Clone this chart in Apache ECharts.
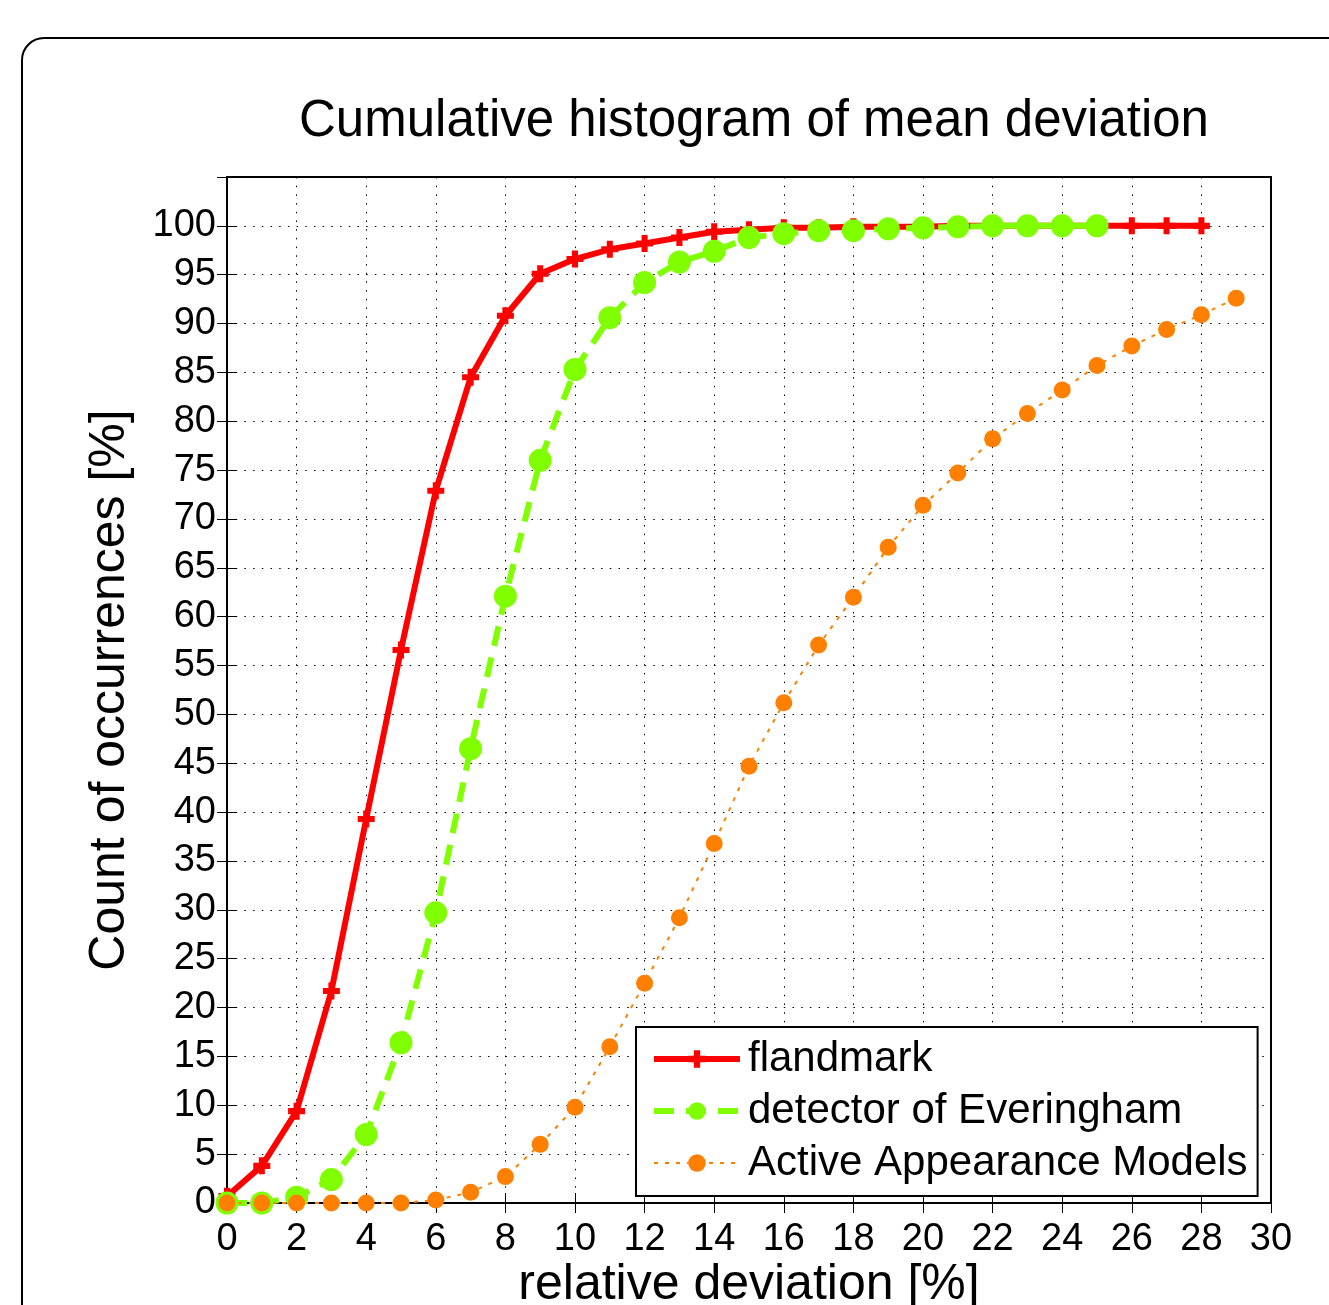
<!DOCTYPE html>
<html>
<head>
<meta charset="utf-8">
<script src="https://cdn.jsdelivr.net/npm/echarts@6/dist/echarts.min.js"></script>
<style>
html,body{margin:0;padding:0;background:#fff;}
#chart{width:1329px;height:1305px;}
</style>
</head>
<body>
<div id="chart"></div>
<script>
// relative deviation [%] (x values)
const xValues = [0,1,2,3,4,5,6,7,8,9,10,11,12,13,14,15,16,17,18,19,20,21,22,23,24,25,26,27,28,29];
const xTicks = [0,2,4,6,8,10,12,14,16,18,20,22,24,26,28,30];
const yTicks = [0,5,10,15,20,25,30,35,40,45,50,55,60,65,70,75,80,85,90,95,100];

const flandmark = [0.7,3.8,9.4,21.7,39.3,56.6,72.9,84.5,90.8,95.1,96.6,97.6,98.2,98.8,99.4,99.6,99.8,99.8,99.9,99.9,99.9,100,100,100,100,100,100,100,100];
const everingham = [0,0,0.6,2.4,7.0,16.4,29.7,46.5,62.1,76.0,85.3,90.6,94.2,96.3,97.4,98.8,99.2,99.5,99.5,99.7,99.8,99.9,100,100,100,100];
const aam = [0,0,0,0,0,0,0.3,1.1,2.7,6.0,9.8,16.0,22.5,29.2,36.8,44.7,51.2,57.1,62.0,67.1,71.4,74.7,78.2,80.8,83.2,85.7,87.7,89.4,90.9,92.6];

const seriesNames = ['flandmark','detector of Everingham','Active Appearance Models'];

function pairs(vals){ return vals.map((v,i)=>[xValues[i], v]); }

const FONT = '"Liberation Sans", Arial, Helvetica, sans-serif';
const plusPath = 'path://M4.5,0H9.5V4.5H14V9.5H9.5V14H4.5V9.5H0V4.5H4.5Z';

const chart = echarts.init(document.getElementById('chart'), null, {renderer:'canvas'});

const gridLeft = 227, gridTop = 177, gridW = 1044, gridH = 1026;

const option = {
  backgroundColor: '#fff',
  animation: false,
  title: {
    text: 'Cumulative histogram of mean deviation',
    left: gridLeft + gridW/2,
    textAlign: 'center',
    top: 91,
    textStyle: {fontFamily: FONT, fontSize: 51, fontWeight: 'normal', color: '#000'}
  },
  graphic: [{
    type: 'rect',
    shape: {x: 22, y: 38, width: 1500, height: 1500, r: 22},
    style: {fill: 'none', stroke: '#000', lineWidth: 2},
    z: -10
  }],
  legend: {
    orient: 'vertical',
    left: 636,
    top: 1027,
    padding: [10, 10, 11, 15],
    itemGap: 8,
    itemWidth: 86,
    itemHeight: 22,
    backgroundColor: '#fff',
    borderColor: '#000',
    borderWidth: 2,
    lineStyle: {width: 'inherit', type: 'inherit'},
    textStyle: {fontFamily: FONT, fontSize: 42, lineHeight: 44, color: '#000', padding: [0,0,0,3]},
    data: seriesNames
  },
  grid: {
    left: gridLeft, top: gridTop, width: gridW, height: gridH,
    containLabel: false, outerBoundsMode: 'none',
    show: true, borderColor: '#000', borderWidth: 2, backgroundColor: 'transparent'
  },
  xAxis: [{
    type: 'value', min: 0, max: 30, interval: 2,
    name: 'relative deviation [%]',
    nameLocation: 'middle', nameGap: 57, nameMoveOverlap: false,
    nameTextStyle: {fontFamily: FONT, fontSize: 50, color: '#000'},
    axisLine: {show: true, onZero: false, lineStyle: {color: '#000', width: 2}},
    axisTick: {show: true, inside: true, length: 10, lineStyle: {color: '#000', width: 1}},
    axisLabel: {fontFamily: FONT, fontSize: 38, color: '#000', margin: 18,
      formatter: v => xTicks.includes(v) ? String(v) : ''},
    splitLine: {show: true, lineStyle: {color: '#000', width: 1, type: [1.5, 7.2]}}
  },{
    type: 'value', min: 0, max: 30, interval: 2, position: 'top',
    axisLine: {show: false},
    axisTick: {show: true, inside: true, length: 10, lineStyle: {color: '#000', width: 1}},
    axisLabel: {show: false}, splitLine: {show: false}
  }],
  yAxis: [{
    type: 'value', min: 0, max: 105, interval: 5,
    name: 'Count of occurrences [%]',
    nameLocation: 'middle', nameGap: 92,
    nameTextStyle: {fontFamily: FONT, fontSize: 50, color: '#000'},
    axisLine: {show: true, onZero: false, lineStyle: {color: '#000', width: 2}},
    axisTick: {show: true, inside: true, length: 10, lineStyle: {color: '#000', width: 1}},
    axisLabel: {fontFamily: FONT, fontSize: 38, color: '#000', margin: 11,
      formatter: v => yTicks.includes(v) ? String(v) : ''},
    splitLine: {show: true, lineStyle: {color: '#000', width: 1, type: [1.5, 7.2]}}
  },{
    type: 'value', min: 0, max: 105, interval: 5, position: 'right',
    axisLine: {show: false},
    axisTick: {show: true, inside: true, length: 10, lineStyle: {color: '#000', width: 1}},
    axisLabel: {show: false}, splitLine: {show: false}
  }],
  series: [{
    name: seriesNames[0], type: 'line', data: pairs(flandmark),
    symbol: plusPath, symbolSize: 17, showAllSymbol: true,
    lineStyle: {color: '#ff0000', width: 6},
    itemStyle: {color: '#ff0000'},
    clip: false
  },{
    name: seriesNames[1], type: 'line', data: pairs(everingham),
    symbol: 'circle', symbolSize: 23, showAllSymbol: true,
    lineStyle: {color: '#80ff00', width: 6, type: [20, 12]},
    itemStyle: {color: '#80ff00'},
    clip: false
  },{
    name: seriesNames[2], type: 'line', data: pairs(aam),
    symbol: 'circle', symbolSize: 17, showAllSymbol: true,
    lineStyle: {color: '#ff8000', width: 2, type: [4, 7]},
    itemStyle: {color: '#ff8000'},
    clip: false
  }]
};
chart.setOption(option);
</script>
</body>
</html>
